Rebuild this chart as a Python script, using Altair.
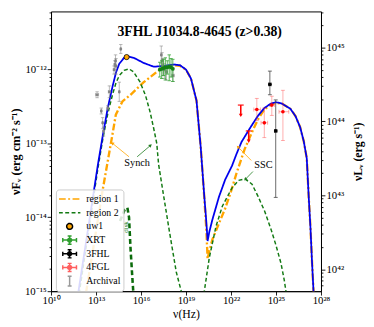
import math
import altair as alt
import pandas as pd

# ---------------- values (log10 units) ----------------
# total model (blue)
tot_lognu = [11.70, 11.83, 13.13, 13.46, 13.78, 14.11, 14.33, 14.55, 14.87,
             15.09, 15.52, 16.18, 16.85, 17.50, 18.20, 18.60, 19.00, 19.33, 19.70, 19.98, 20.22,
             20.35, 20.44, 20.55, 20.76, 21.20, 21.61, 22.07, 22.37, 22.70, 23.24, 23.78, 24.22,
             24.66, 24.98, 25.40, 25.96, 26.30, 26.61, 26.85, 27.05, 27.18, 27.30, 27.40, 27.50, 27.58]
tot_logf = [-15.15, -15.00, -13.28, -12.88, -12.52, -12.22, -12.04, -11.92, -11.84,
            -11.82, -11.84, -11.91, -11.96, -11.95, -11.93, -11.94, -12.00, -12.12, -12.42, -13.05, -13.72,
            -14.05, -14.32, -14.20, -14.03, -13.72, -13.49, -13.30, -13.14, -12.98, -12.80, -12.63, -12.52,
            -12.46, -12.44, -12.46, -12.53, -12.63, -12.78, -12.97, -13.20, -13.72, -14.15, -14.60, -15.00, -15.40]

# region 1 (orange dash-dot)
r1_lognu = [12.20, 12.35, 13.46, 13.99, 14.32, 14.76, 15.30, 16.18, 17.05, 17.48,
            18.20, 18.60, 19.00, 19.33, 19.70, 19.98, 20.22, 20.35, 20.44, 20.55,
            20.76, 21.20, 21.61, 22.00, 22.37, 22.92, 23.46, 23.78, 24.22, 24.66,
            24.98, 25.40, 25.96, 26.30, 26.61, 26.85, 27.05, 27.18, 27.30, 27.40, 27.50, 27.58]
r1_logf = [-15.20, -15.00, -13.61, -13.00, -12.61, -12.43, -12.34, -12.17, -12.03, -11.97,
           -11.94, -11.95, -12.00, -12.12, -12.42, -13.05, -13.74, -14.15, -14.56, -14.46,
           -14.30, -14.08, -13.88, -13.65, -13.40, -13.07, -12.82, -12.68, -12.54, -12.47,
           -12.45, -12.46, -12.53, -12.63, -12.78, -12.97, -13.20, -13.72, -14.15, -14.60, -15.00, -15.40]

# region 2 (green dashed): synchrotron and SSC parts
r2s_lognu = [11.75, 11.90, 13.13, 13.46, 13.78, 14.11, 14.33, 14.55, 14.87, 15.20, 15.50,
             15.94, 16.30, 16.60, 16.85, 17.05, 17.17, 17.50, 17.90, 18.35, 18.68, 18.80]
r2s_logf = [-15.20, -15.00, -13.33, -12.93, -12.60, -12.33, -12.18, -12.08, -12.01, -11.99, -12.03,
            -12.17, -12.35, -12.57, -12.80, -13.00, -13.28, -13.70, -14.20, -14.74, -15.00, -15.20]
r2c_lognu = [20.15, 20.22, 20.44, 20.55, 20.76, 21.00, 21.42, 22.07, 22.50, 22.94,
             23.40, 23.81, 24.25, 24.68, 25.00, 25.33, 25.55, 25.66, 25.72]
r2c_logf = [-15.30, -15.00, -14.70, -14.55, -14.35, -14.12, -13.85, -13.60, -13.50, -13.48,
            -13.55, -13.72, -13.92, -14.17, -14.38, -14.62, -14.85, -15.00, -15.20]

# disk (thick green dashed)
disk_lognu = [14.60, 14.90, 15.09, 15.20, 15.30, 15.40, 15.48, 15.56]
disk_logf = [-14.05, -13.90, -13.87, -14.00, -14.42, -14.75, -15.00, -15.30]

# archival (gray)
arch_lognu = [13.07, 13.35, 13.44, 13.50, 13.78, 13.89, 14.20, 14.25, 14.30, 14.33, 14.55, 14.65,
              17.35, 17.40, 17.45, 17.55, 17.70, 18.13]
arch_logf = [-12.34, -12.56, -12.72, -12.83, -12.52, -12.30, -12.00, -11.93, -11.88, -11.95, -12.30, -11.72,
             -11.80, -11.88, -11.95, -12.00, -12.03, -12.08]
arch_lo = [-12.38, -12.60, -12.80, -12.90, -12.55, -12.38, -12.06, -12.00, -11.96, -12.06, -12.43, -11.78,
           -11.92, -11.98, -12.08, -12.12, -12.14, -12.16]
arch_hi = [-12.30, -12.52, -12.65, -12.78, -12.49, -12.22, -11.95, -11.88, -11.80, -11.85, -12.17, -11.66,
           -11.68, -11.77, -11.85, -11.92, -11.95, -11.98]
arch_xlo = [12.97, 13.35, 13.44, 13.50, 13.78, 13.82, 14.20, 14.25, 14.30, 14.33, 14.55, 14.65,
            17.35, 17.40, 17.45, 17.55, 17.70, 18.05]
arch_xhi = [13.17, 13.35, 13.44, 13.50, 13.78, 13.96, 14.20, 14.25, 14.30, 14.33, 14.55, 14.65,
            17.35, 17.40, 17.45, 17.55, 17.70, 18.21]

# Swift-XRT (green)
xrt_lognu = [17.25, 17.38, 17.50, 17.62, 17.75, 17.88, 18.00, 18.12]
xrt_logf = [-12.00, -11.99, -11.98, -11.97, -11.97, -11.96, -11.97, -11.99]
xrt_lo = [-12.10, -12.12, -12.08, -12.14, -12.06, -12.15, -12.10, -12.16]
xrt_hi = [-11.90, -11.88, -11.86, -11.84, -11.88, -11.80, -11.85, -11.86]
xrt_xlo = [17.19, 17.32, 17.44, 17.56, 17.69, 17.82, 17.94, 18.06]
xrt_xhi = [17.31, 17.44, 17.56, 17.68, 17.81, 17.94, 18.06, 18.18]

# UVOT uw1
uw1_lognu = [15.04]
uw1_logf = [-11.83]

# 3FHL (black)
fhl_lognu = [24.59, 24.98]
fhl_logf = [-12.20, -12.83]
fhl_lo = [-12.34, -13.73]
fhl_hi = [-12.02, -12.41]
fhl_xlo = [24.50, 24.90]
fhl_xhi = [24.68, 25.06]

# 4FGL (red)
fgl_lognu = [23.72, 24.22, 24.72, 25.46]
fgl_logf = [-12.54, -12.72, -12.48, -12.57]
fgl_lo = [-12.69, -12.92, -12.62, -12.96]
fgl_hi = [-12.39, -12.52, -12.36, -12.28]
fgl_xlo = [23.52, 24.00, 24.62, 25.20]
fgl_xhi = [23.96, 24.44, 24.89, 25.85]
ul_lognu = [22.65, 23.18]
ul_logf = [-12.48, -12.83]
ul_len = 0.14

# annotations
ann_text = ["Synch", "SSC"]
ann_lognu = [15.74, 24.16]
ann_logf = [-13.27, -13.29]
arr_color = ["orange", "#1e7b1e", "orange", "#1e7b1e"]
arr_tail_nu = [15.20, 15.74, 23.35, 23.46]
arr_tail_f = [-13.18, -13.18, -13.23, -13.38]
arr_head_nu = [14.11, 16.61, 22.48, 22.98]
arr_head_f = [-13.00, -13.03, -13.05, -13.48]
disk_label = ["disk"]
disk_label_nu = [14.97]
disk_label_f = [-14.13]

TITLE = "3FHL J1034.8-4645 (z>0.38)"
LOG_L_OFFSET = 56.702  # log10(nuL_nu / nuF_nu)

series = ["region 1", "region 2", "uw1", "XRT", "3FHL", "4FGL", "Archival"]

# ---------------- layout ----------------
XMIN, XMAX = 10, 28
YMIN, YMAX = -15.0, -11.212
W, H = 276, 286
PX_X = W / (XMAX - XMIN)
PX_Y = H / (YMAX - YMIN)

SERIF = "Liberation Serif"
SUP = str.maketrans("0123456789-", "⁰¹²³⁴⁵⁶⁷⁸⁹⁻")


def sup(n):
    return str(n).translate(SUP)


def label_expr(exps):
    e = "round(log(datum.value)/LN10)"
    s = "''"
    for k in exps:
        s = f"({e} == {k} ? '10{sup(k)}' : {s})"
    return f"abs(log(datum.value)/LN10 - {e}) < 0.001 ? {s} : ''"


MAJOR_TEST = "abs(log(datum.value)/LN10 - round(log(datum.value)/LN10)) < 0.001"

x_exps = list(range(10, 29, 3))
xsc = alt.Scale(type="log", domain=[10.0 ** XMIN, 10.0 ** XMAX], nice=False)
xaxis = alt.Axis(values=[10.0 ** e for e in x_exps], labelExpr=label_expr(x_exps),
                 title="ν(Hz)", titleFontWeight="normal", titleFontSize=12, titlePadding=3,
                 tickSize=4, labelPadding=0, labelFlush=False, labelOverlap=False)

ysc = alt.Scale(type="log", domain=[10.0 ** YMIN, 10.0 ** YMAX], nice=False)
y_vals = []
for e in range(-15, -11):
    for k in range(1, 10):
        v = k * 10.0 ** e
        if v <= 10.0 ** YMAX * 1.0001:
            y_vals.append(v)
yaxis = alt.Axis(values=y_vals, labelExpr=label_expr(range(-15, -11)), orient="left",
                 title="νFᵥ (erg cm⁻² s⁻¹)", titleFontSize=12.5, titleFontWeight="bold",
                 titlePadding=2, labelPadding=1, labelOverlap=False, labelFlush=False,
                 tickSize={"condition": {"test": MAJOR_TEST, "value": 4}, "value": 2})

RMIN, RMAX = YMIN + LOG_L_OFFSET, YMAX + LOG_L_OFFSET
ysc_r = alt.Scale(type="log", domain=[10.0 ** RMIN, 10.0 ** RMAX], nice=False)
r_vals = []
for e in range(41, 46):
    for k in range(1, 10):
        v = k * 10.0 ** e
        if 10.0 ** RMIN <= v <= 10.0 ** RMAX:
            r_vals.append(v)
raxis = alt.Axis(values=r_vals, labelExpr=label_expr(range(42, 46)), orient="right",
                 title="νLᵥ (erg s⁻¹)", titleFontSize=12, titleFontWeight="bold", titleAngle=270,
                 titlePadding=21, labelPadding=1, labelOverlap=False, labelFlush=False,
                 tickSize={"condition": {"test": MAJOR_TEST, "value": 4}, "value": 2})


def X(f):
    return alt.X(f, type="quantitative", scale=xsc, axis=xaxis)


def Y(f):
    return alt.Y(f, type="quantitative", scale=ysc, axis=yaxis)


def curve_df(lognu, logf, seg="a"):
    return pd.DataFrame({"nu": [10.0 ** v for v in lognu], "f": [10.0 ** v for v in logf],
                         "i": list(range(len(lognu))), "seg": seg})


def err_df(lognu, logf, lo, hi, xlo=None, xhi=None):
    d = pd.DataFrame({"nu": [10.0 ** v for v in lognu], "f": [10.0 ** v for v in logf],
                      "lo": [10.0 ** v for v in lo], "hi": [10.0 ** v for v in hi]})
    if xlo is not None:
        d["xlo"] = [10.0 ** v for v in xlo]
        d["xhi"] = [10.0 ** v for v in xhi]
    return d


def line(df, color, dash, width, detail=False):
    enc = dict(x=X("nu"), y=Y("f"), order=alt.Order("i:Q"))
    if detail:
        enc["detail"] = "seg:N"
    return alt.Chart(df).mark_line(color=color, strokeDash=dash, strokeWidth=width,
                                   clip=True).encode(**enc)


def errbars(df, color, op, cap=4, width=1.0, xerr=True):
    base = alt.Chart(df)
    out = [base.mark_rule(color=color, opacity=op, strokeWidth=width).encode(
               x=X("nu"), y=Y("lo"), y2="hi"),
           base.transform_fold(["lo", "hi"], as_=["k", "v"]).mark_tick(
               orient="horizontal", size=cap, thickness=width, color=color, opacity=op).encode(
               x=X("nu"), y=Y("v:Q"))]
    if xerr:
        out += [base.mark_rule(color=color, opacity=op, strokeWidth=width).encode(
                    x=X("xlo"), x2="xhi", y=Y("f")),
                base.transform_fold(["xlo", "xhi"], as_=["k", "v"]).mark_tick(
                    orient="vertical", size=cap, thickness=width, color=color, opacity=op).encode(
                    x=X("v:Q"), y=Y("f"))]
    return out


layers = []
# model curves
layers.append(line(curve_df(r1_lognu, r1_logf), "orange", [7, 2.5, 2, 2.5], 2.4))
r2 = pd.concat([curve_df(r2s_lognu, r2s_logf, "s"), curve_df(r2c_lognu, r2c_logf, "c")])
layers.append(line(r2, "#137a13", [4, 2.5], 1.5, detail=True))
layers.append(line(curve_df(disk_lognu, disk_logf), "#0b6b0b", [5, 3], 2.6))
tot = curve_df(tot_lognu, tot_logf)
layers.append(line(tot, "#0000ee", [1, 0], 1.8))

# archival
arch = err_df(arch_lognu, arch_logf, arch_lo, arch_hi, arch_xlo, arch_xhi)
layers += errbars(arch, "gray", 0.55, cap=3.5)
layers.append(alt.Chart(arch).mark_point(filled=True, shape="square", size=7, color="gray", opacity=0.9).encode(
    x=X("nu"), y=Y("f")))
# XRT
xrt = err_df(xrt_lognu, xrt_logf, xrt_lo, xrt_hi, xrt_xlo, xrt_xhi)
layers += errbars(xrt, "#3aa63a", 0.85, cap=3.5)
layers.append(alt.Chart(xrt).mark_point(filled=True, shape="circle", size=14, color="#138013", opacity=1).encode(
    x=X("nu"), y=Y("f")))
# uw1
uw1 = curve_df(uw1_lognu, uw1_logf)
layers.append(alt.Chart(uw1).mark_point(filled=True, shape="circle", size=28, fill="orange", stroke="black",
                                        strokeWidth=0.8, opacity=1).encode(x=X("nu"), y=Y("f")))
# 3FHL
fhl = err_df(fhl_lognu, fhl_logf, fhl_lo, fhl_hi, fhl_xlo, fhl_xhi)
layers += errbars(fhl, "#444444", 0.8, cap=4)
layers.append(alt.Chart(fhl).mark_point(filled=True, shape="circle", size=14, color="black", opacity=1).encode(
    x=X("nu"), y=Y("f")))
# 4FGL
fgl = err_df(fgl_lognu, fgl_logf, fgl_lo, fgl_hi, fgl_xlo, fgl_xhi)
layers += errbars(fgl, "#ff3030", 0.4, cap=4)
layers.append(alt.Chart(fgl).mark_point(filled=True, shape="circle", size=14, color="red", opacity=1).encode(
    x=X("nu"), y=Y("f")))
ul = pd.DataFrame({"nu": [10.0 ** v for v in ul_lognu], "f": [10.0 ** v for v in ul_logf],
                   "fb": [10.0 ** (v - ul_len) for v in ul_logf]})
layers.append(alt.Chart(ul).mark_rule(color="red", strokeWidth=1.6).encode(x=X("nu"), y=Y("f"), y2="fb"))
layers.append(alt.Chart(ul).mark_tick(orient="horizontal", size=6, thickness=1.6, color="red").encode(
    x=X("nu"), y=Y("f")))
layers.append(alt.Chart(ul).mark_point(filled=True, shape="triangle-down", size=16, color="red", opacity=1).encode(
    x=X("nu"), y=Y("fb")))

# annotations
ann = pd.DataFrame({"nu": [10.0 ** v for v in ann_lognu], "f": [10.0 ** v for v in ann_logf], "t": ann_text})
layers.append(alt.Chart(ann).mark_text(font=SERIF, fontSize=10.5, color="black").encode(
    x=X("nu"), y=Y("f"), text="t:N"))
angles = []
for tn, tf, hn, hf in zip(arr_tail_nu, arr_tail_f, arr_head_nu, arr_head_f):
    dx = (hn - tn) * PX_X
    dy = -(hf - tf) * PX_Y
    angles.append(math.degrees(math.atan2(dx, -dy)) % 360)
arr = pd.DataFrame({"tn": [10.0 ** v for v in arr_tail_nu], "tf": [10.0 ** v for v in arr_tail_f],
                    "hn": [10.0 ** v for v in arr_head_nu], "hf": [10.0 ** v for v in arr_head_f],
                    "c": arr_color, "ang": angles})
layers.append(alt.Chart(arr).mark_rule(strokeWidth=0.8).encode(
    x=X("tn"), y=Y("tf"), x2="hn", y2="hf", color=alt.Color("c:N", scale=None)))
layers.append(alt.Chart(arr).mark_point(filled=True, shape="triangle", size=14, opacity=1).encode(
    x=X("hn"), y=Y("hf"), angle=alt.Angle("ang:Q", scale=None), color=alt.Color("c:N", scale=None)))

# legend (built by the library from a series-keyed, invisible layer)
LINE = "M-1.1,0H1.1"
DOT = "M0.3,0A0.3,0.3,0,1,1,-0.3,0A0.3,0.3,0,1,1,0.3,0Z"
CROSS = ("M-0.7,0H0.7M-0.7,-0.22V0.22M0.7,-0.22V0.22M0,-0.42V0.42M-0.2,-0.42H0.2M-0.2,0.42H0.2"
         "M0.2,0A0.2,0.2,0,1,1,-0.2,0A0.2,0.2,0,1,1,0.2,0Z")
BAR = "M0,-0.5V0.5M-0.2,-0.5H0.2M-0.2,0.5H0.2"
leg_shapes = [LINE, LINE, DOT, CROSS, CROSS, CROSS, BAR]
leg_fill = ["orange", "#137a13", "orange", "#2e9e2e", "black", "red", "gray"]
leg_stroke = ["orange", "#137a13", "black", "#2e9e2e", "black", "#ff6060", "#999999"]
leg_dash = [[7, 2.5, 2, 2.5], [4, 2.5], [1, 0], [1, 0], [1, 0], [1, 0], [1, 0]]
leg = alt.Legend(title=None, orient="none", legendX=5, legendY=182, fillColor="rgba(255,255,255,0.85)",
                 strokeColor="#cccccc", cornerRadius=3, padding=3, labelFont=SERIF, labelFontSize=10,
                 labelOffset=6, symbolSize=400, symbolOpacity=1, clipHeight=13.5, rowPadding=0,
                 labelColor="black")
legend_layer = alt.Chart(pd.DataFrame({"s": series})).mark_point(
    filled=True, opacity=0, strokeWidth=1.6).encode(
    fill=alt.Fill("s:N", scale=alt.Scale(domain=series, range=leg_fill), legend=leg),
    stroke=alt.Stroke("s:N", scale=alt.Scale(domain=series, range=leg_stroke), legend=leg),
    shape=alt.Shape("s:N", scale=alt.Scale(domain=series, range=leg_shapes), legend=leg),
    strokeDash=alt.StrokeDash("s:N", scale=alt.Scale(domain=series, range=leg_dash), legend=leg))
layers.append(legend_layer)

# rotated "disk" label, drawn after the legend layer
dl = pd.DataFrame({"nu": [10.0 ** v for v in disk_label_nu], "f": [10.0 ** v for v in disk_label_f],
                   "t": disk_label})
layers.append(alt.Chart(dl).mark_text(font=SERIF, fontSize=7, color="#137a13", angle=270).encode(
    x=X("nu"), y=Y("f"), text="t:N"))

left = alt.layer(*layers)
tot_l = pd.DataFrame({"nu": [10.0 ** v for v in tot_lognu],
                      "L": [10.0 ** (v + LOG_L_OFFSET) for v in tot_logf]})
right = alt.Chart(tot_l).mark_line(opacity=0, clip=True).encode(
    x=X("nu"), y=alt.Y("L:Q", scale=ysc_r, axis=raxis))

chart = alt.layer(left, right).resolve_scale(y="independent").properties(
    width=W, height=H, autosize="none",
    padding={"left": 44, "top": 0, "right": 46, "bottom": 29},
    title=alt.TitleParams(TITLE, font=SERIF, fontSize=14, fontWeight="bold", anchor="middle",
                          frame="group", offset=-33, dx=14, color="black"),
).configure_view(stroke="black", strokeWidth=1).configure_axis(
    domainColor="black", tickColor="black", labelColor="black", titleColor="black", grid=False,
    labelFont=SERIF, titleFont=SERIF, labelFontSize=11, domainWidth=1, tickWidth=0.9)

chart.save("out.html", embed_options={"renderer": "svg", "actions": False})
